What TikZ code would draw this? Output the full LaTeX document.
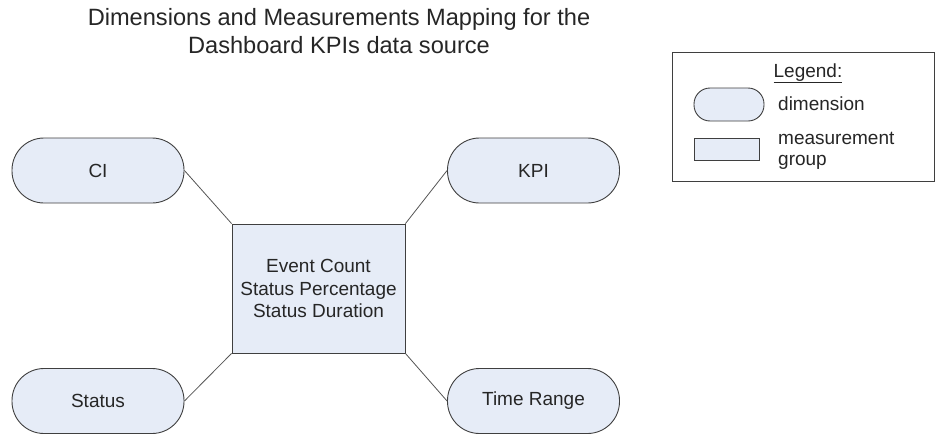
\documentclass[tikz,border=0pt]{standalone}
\usepackage{fontspec}
\setmainfont{Liberation Sans}
\definecolor{boxfill}{HTML}{E6ECF7}
\definecolor{boxline}{HTML}{3F3F3F}
\definecolor{linkline}{HTML}{555555}
\definecolor{txt}{HTML}{262626}
\begin{document}
\begin{tikzpicture}[x=1pt,y=-1pt,
  dimbox/.style={draw=boxline, fill=boxfill, line width=0.9pt, rounded corners=32pt,
    minimum width=172pt, minimum height=65pt, inner sep=0pt,
    font=\fontsize{19}{22}\selectfont, text=txt},
  measbox/.style={draw=boxline, fill=boxfill, line width=0.9pt,
    minimum width=173pt, minimum height=129pt, inner sep=0pt, align=center,
    font=\fontsize{19}{22.5}\selectfont, text=txt},
  link/.style={draw=linkline, line width=0.8pt},
  lgtext/.style={inner sep=0pt, font=\fontsize{19}{21}\selectfont, text=txt, align=left}]
\useasboundingbox (0,0) rectangle (936,434);
% title
\node[inner sep=0pt, align=center, text=txt, font=\fontsize{23.6}{28}\selectfont] (title) at (339,31)
  {Dimensions and Measurements Mapping for the\\Dashboard KPIs data source};
% main nodes
\node[measbox] (meas) at (318.5,288.5) {Event Count\\Status Percentage\\Status Duration};
\node[dimbox] (ci) at (98,170.5) {CI};
\node[dimbox] (status) at (98,401) {Status};
\node[dimbox] (kpi) at (533.5,170.5) {KPI};
\node[dimbox] (time) at (533.5,401) {Time Range};
% connectors
\draw[link] (ci.east) -- (meas.north west);
\draw[link] (status.east) -- (meas.south west);
\draw[link] (kpi.west) -- (meas.north east);
\draw[link] (time.west) -- (meas.south east);
% legend
\node[draw=boxline, line width=0.9pt, fill=white, minimum width=262pt, minimum height=129pt, inner sep=0pt] (legend) at (803.5,117) {};
\node[lgtext, anchor=base] (lgtitle) at (808,77) {\underline{Legend:}};
\node[draw=boxline, fill=boxfill, line width=0.9pt, rounded corners=16pt, minimum width=70pt, minimum height=33pt, inner sep=0pt] (lgdim) at (729,104.5) {};
\node[lgtext, anchor=west] (lgdimtext) at (778,104) {dimension};
\node[draw=boxline, fill=boxfill, line width=0.9pt, minimum width=65pt, minimum height=22pt, inner sep=0pt] (lgmeas) at (726.5,149) {};
\node[lgtext, anchor=west] (lgmeastext) at (778,151) {measurement\\group};
\end{tikzpicture}
\end{document}
